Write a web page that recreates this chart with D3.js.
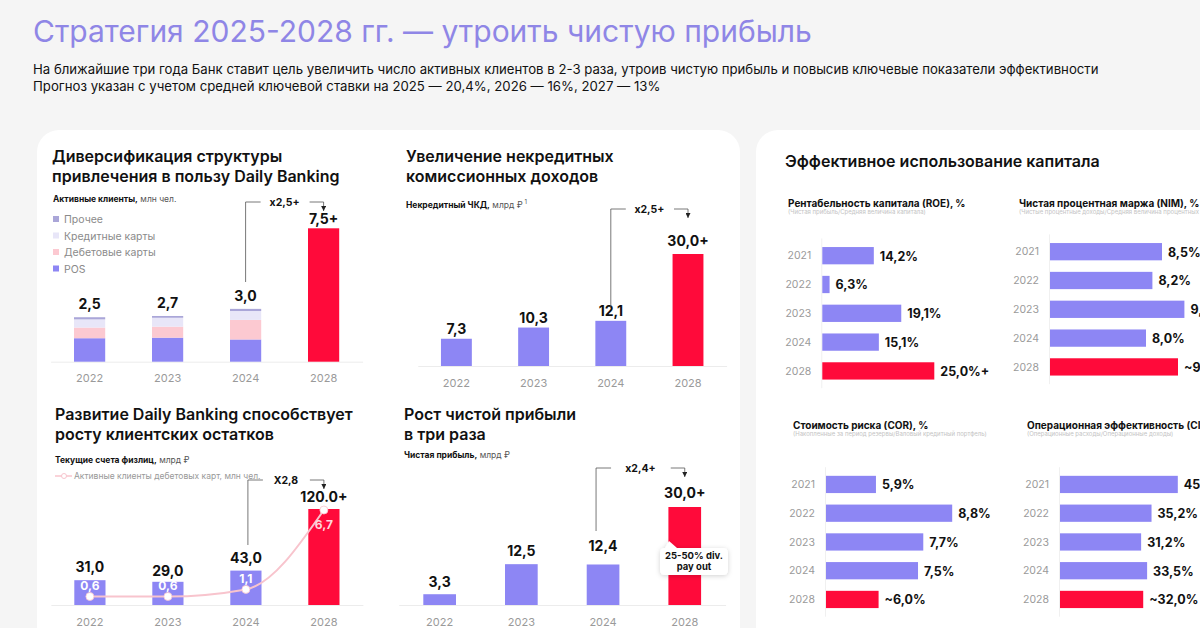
<!DOCTYPE html>
<html>
<head>
<meta charset="utf-8">
<script src="https://cdn.jsdelivr.net/npm/d3@7"></script>
<style>
  body { margin: 0; background: #f5f5f5; }
  svg { display: block; font-family: Inter, "Noto Sans", sans-serif; }
</style>
</head>
<body>
<svg width="1200" height="628"></svg>
<script>
// ---- data ----
const years = ["2022", "2023", "2024", "2028"];
const kpiYears = ["2021", "2022", "2023", "2024", "2028"];

// active clients, mln (stacked for 2022-2024, total only for 2028)
const clientSegments = ["POS", "Дебетовые карты", "Кредитные карты", "Прочее"];
const clientsPos = [1.32, 1.35, 1.25];
const clientsDebit = [0.6, 0.62, 1.1];
const clientsCredit = [0.46, 0.5, 0.5];
const clientsOther = [0.12, 0.1, 0.12];
const clientsTotal = [2.5, 2.7, 3.0, 7.5];
const clientsLabels = ["2,5", "2,7", "3,0", "7,5+"];

// non-credit fee income, bn RUB
const feeIncome = [7.3, 10.3, 12.1, 30.0];
const feeLabels = ["7,3", "10,3", "12,1", "30,0+"];

// retail current accounts, bn RUB + debit card clients, mln
const accounts = [31.0, 29.0, 43.0, 120.0];
const accountLabels = ["31,0", "29,0", "43,0", "120.0+"];
const debitClients = [0.6, 0.6, 1.1, 6.7];
const debitLabels = ["0,6", "0,6", "1,1", "6,7"];

// net profit, bn RUB
const netProfit = [3.3, 12.5, 12.4, 30.0];
const profitLabels = ["3,3", "12,5", "12,4", "30,0+"];

// capital efficiency, %
const roe = [14.2, 6.3, 19.1, 15.1, 25.0];
const roeLabels = ["14,2%", "6,3%", "19,1%", "15,1%", "25,0%+"];
const nim = [8.5, 8.2, 9.2, 8.0, 9.0];
const nimLabels = ["8,5%", "8,2%", "9,2%", "8,0%", "~9,0%"];
const cor = [5.9, 8.8, 7.7, 7.5, 6.0];
const corLabels = ["5,9%", "8,8%", "7,7%", "7,5%", "~6,0%"];
const cir = [45.3, 35.2, 31.2, 33.5, 32.0];
const cirLabels = ["45,3%", "35,2%", "31,2%", "33,5%", "~32,0%"];

const purple = "#8d86f4", red = "#ff0a3a", ink = "#111", grey = "#9a9a9a";
const segColors = ["#8d86f4", "#fcc9d1", "#e8e6f8", "#aaa6d8"];

const svg = d3.select("svg");

let defs = svg.append("defs");
defs.append("marker")
    .attr("id", "arrow")
    .attr("viewBox", "0 -4 8 8")
    .attr("refX", 8)
    .attr("refY", 0)
    .attr("markerUnits", "userSpaceOnUse")
    .attr("markerWidth", 5)
    .attr("markerHeight", 5)
    .attr("orient", "auto")
    .append("path")
    .attr("d", "M0,-4L8,0L0,4Z")
    .attr("fill", "#222");
defs.append("filter")
    .attr("id", "shadow")
    .attr("x", "-30%").attr("y", "-30%").attr("width", "160%").attr("height", "160%")
    .append("feDropShadow")
    .attr("dx", 0).attr("dy", 1).attr("stdDeviation", 2.5)
    .attr("flood-color", "#000").attr("flood-opacity", 0.18);

// background + cards
svg.append("rect").attr("width", 1200).attr("height", 628).attr("fill", "#f5f5f5");
svg.append("rect").attr("x", 37).attr("y", 130).attr("width", 703).attr("height", 540).attr("rx", 22).attr("fill", "#fff");
svg.append("rect").attr("x", 756).attr("y", 130).attr("width", 520).attr("height", 540).attr("rx", 22).attr("fill", "#fff");

function text(g, x, y, str, size, weight, fill, anchor) {
    return g.append("text")
        .attr("x", x).attr("y", y)
        .attr("font-size", size)
        .attr("font-weight", weight || 400)
        .attr("fill", fill || ink)
        .attr("text-anchor", anchor || "start")
        .text(str);
}

// page header
text(svg, 33, 42, "Стратегия 2025-2028 гг. — утроить чистую прибыль", 30, 400, "#8f86e6");
text(svg, 33, 74, "На ближайшие три года Банк ставит цель увеличить число активных клиентов в 2-3 раза, утроив чистую прибыль и повысив ключевые показатели эффективности", 13.2, 400, ink);
text(svg, 33, 91, "Прогноз указан с учетом средней ключевой ставки на 2025 — 20,4%, 2026 — 16%, 2027 — 13%", 13.2, 400, ink);

function chartTitle(x, y, lines) {
    lines.forEach((l, i) => text(svg, x, y + i * 20, l, 16, 600, ink));
}

function caption(x, y, bold, rest, sup) {
    const t = svg.append("text").attr("x", x).attr("y", y).attr("font-size", 8.5).attr("fill", ink);
    t.append("tspan").attr("font-weight", 700).text(bold);
    t.append("tspan").attr("fill", "#555").text(rest);
    if (sup) t.append("tspan").attr("fill", "#555").attr("font-size", 6).attr("dy", -4).text(" " + sup);
}

function columnChart(cfg) {
    const g = svg.append("g");
    const x = d3.scaleBand().domain(years).range(cfg.xRange).paddingInner(0.6).paddingOuter(0.3);
    const y = d3.scaleLinear().domain([0, cfg.max]).range([cfg.base, cfg.base - cfg.height]);
    const axis = g.append("g")
        .attr("transform", `translate(0,${cfg.base})`)
        .call(d3.axisBottom(x).tickSize(0).tickSizeOuter(0).tickPadding(13));
    axis.attr("font-family", null).attr("font-size", 11);
    axis.select(".domain").attr("stroke", "#ececec");
    axis.selectAll("text").attr("fill", grey);
    return { g, x, y };
}

function simpleBars(c, values) {
    c.g.selectAll("rect.bar")
        .data(values)
        .enter()
        .append("rect")
        .attr("class", "bar")
        .attr("x", (d, i) => c.x(years[i]))
        .attr("width", c.x.bandwidth())
        .attr("y", d => c.y(d))
        .attr("height", d => c.y(0) - c.y(d))
        .attr("fill", (d, i) => i === values.length - 1 ? red : purple);
}

function valueLabels(c, values, labels, lift) {
    c.g.selectAll("text.val")
        .data(values)
        .enter()
        .append("text")
        .attr("class", "val")
        .attr("x", (d, i) => c.x(years[i]) + c.x.bandwidth() / 2)
        .attr("y", (d, i) => c.y(d) - (lift ? lift[i] : 8))
        .attr("text-anchor", "middle")
        .attr("font-size", 14)
        .attr("font-weight", 700)
        .attr("fill", ink)
        .text((d, i) => labels[i]);
}

// growth bracket from the 2024 bar to the 2028 bar
function bracket(c, yLow, yTop, txt, shift) {
    const xFrom = c.x("2024") + c.x.bandwidth() / 2 + (shift || 0);
    const xTo = c.x("2028") + c.x.bandwidth() / 2;
    c.g.append("path")
        .attr("d", `M${xFrom},${yLow}V${yTop}H${xFrom + 15}`)
        .attr("fill", "none").attr("stroke", "#555").attr("stroke-width", 0.8);
    c.g.append("path")
        .attr("d", `M${xTo - 14},${yTop}H${xTo}V${yTop + 9}`)
        .attr("fill", "none").attr("stroke", "#555").attr("stroke-width", 0.8)
        .attr("marker-end", "url(#arrow)");
    text(c.g, (xFrom + xTo) / 2, yTop + 3.5, txt, 10.5, 700, ink, "middle");
}

// ---- chart 1: active clients ----
chartTitle(52, 162, ["Диверсификация структуры", "привлечения в пользу Daily Banking"]);
caption(53, 202, "Активные клиенты,", " млн чел.");
const legendOrder = [3, 2, 1, 0];
legendOrder.forEach((k, i) => {
    svg.append("rect").attr("x", 53).attr("y", 216 + i * 16.5).attr("width", 6).attr("height", 6).attr("fill", segColors[k]);
    text(svg, 64, 223 + i * 16.5, clientSegments[k], 10.5, 400, "#8a8a8a");
});
const c1 = columnChart({ xRange: [50.6, 362.6], base: 361.7, max: 7.5, height: 133.4 });
const stackRows = clientsPos.map((v, i) => ({
    year: years[i], s0: v, s1: clientsDebit[i], s2: clientsCredit[i], s3: clientsOther[i]
}));
const stacked = d3.stack().keys(["s0", "s1", "s2", "s3"])(stackRows);
c1.g.selectAll("g.layer")
    .data(stacked)
    .enter()
    .append("g")
    .attr("class", "layer")
    .attr("fill", (d, i) => segColors[i])
    .selectAll("rect")
    .data(d => d)
    .enter()
    .append("rect")
    .attr("x", d => c1.x(d.data.year))
    .attr("width", c1.x.bandwidth())
    .attr("y", d => c1.y(d[1]))
    .attr("height", d => c1.y(d[0]) - c1.y(d[1]));
c1.g.append("rect")
    .attr("x", c1.x("2028"))
    .attr("width", c1.x.bandwidth())
    .attr("y", c1.y(clientsTotal[3]))
    .attr("height", c1.y(0) - c1.y(clientsTotal[3]))
    .attr("fill", red);
const stackTops = stackRows.map(r => r.s0 + r.s1 + r.s2 + r.s3).concat([clientsTotal[3]]);
valueLabels(c1, stackTops, clientsLabels, [8, 8, 8, 4]);
bracket(c1, 282, 202, "x2,5+");

// ---- chart 2: fee income ----
chartTitle(406, 162, ["Увеличение некредитных", "комиссионных доходов"]);
caption(406, 208, "Некредитный ЧКД,", " млрд ₽", "1");
const c2 = columnChart({ xRange: [417.8, 726.6], base: 366, max: 30, height: 112 });
simpleBars(c2, feeIncome);
valueLabels(c2, feeIncome, feeLabels, [5, 5, 5, 8]);
bracket(c2, 307, 209, "x2,5+");

// ---- chart 3: current accounts + debit clients ----
chartTitle(55, 420, ["Развитие Daily Banking способствует", "росту клиентских остатков"]);
caption(55, 463, "Текущие счета физлиц,", " млрд ₽");
const c3 = columnChart({ xRange: [50.9, 362.9], base: 605, max: 120, height: 96 });
simpleBars(c3, accounts);
valueLabels(c3, accounts, accountLabels, [8, 6, 8, 7]);
bracket(c3, 545, 480, "X2,8", 2);
const y3 = d3.scaleLinear().domain([0, 6.7]).range([605, 510]);
const cx3 = (d, i) => c3.x(years[i]) + c3.x.bandwidth() / 2;
c3.g.append("path")
    .datum(debitClients)
    .attr("d", d3.line().x(cx3).y(d => y3(d)).curve(d3.curveMonotoneX))
    .attr("fill", "none")
    .attr("stroke", "#f8c4cd")
    .attr("stroke-width", 2);
c3.g.selectAll("circle.pt")
    .data(debitClients)
    .enter()
    .append("circle")
    .attr("class", "pt")
    .attr("cx", cx3)
    .attr("cy", d => y3(d))
    .attr("r", 4)
    .attr("fill", "#fff")
    .attr("stroke", "#f8c4cd")
    .attr("stroke-width", 0.8);
c3.g.selectAll("text.pl")
    .data(debitClients)
    .enter()
    .append("text")
    .attr("class", "pl")
    .attr("x", cx3)
    .attr("y", (d, i) => i === debitClients.length - 1 ? y3(d) + 19 : y3(d) - 6)
    .attr("text-anchor", "middle")
    .attr("font-size", 12)
    .attr("font-weight", 700)
    .attr("fill", (d, i) => i === debitClients.length - 1 ? "#ffd6dd" : "#fff")
    .text((d, i) => debitLabels[i]);
// line legend
svg.append("line").attr("x1", 55).attr("x2", 72).attr("y1", 476).attr("y2", 476).attr("stroke", "#f8c4cd").attr("stroke-width", 1.5);
svg.append("circle").attr("cx", 64).attr("cy", 476).attr("r", 2.5).attr("fill", "#fff").attr("stroke", "#f8c4cd");
text(svg, 74, 479, "Активные клиенты дебетовых карт, млн чел.", 8.5, 400, "#999");

// ---- chart 4: net profit ----
chartTitle(404, 420, ["Рост чистой прибыли", "в три раза"]);
caption(404, 458, "Чистая прибыль,", " млрд ₽");
const c4 = columnChart({ xRange: [398.8, 725.6], base: 605, max: 30, height: 98 });
simpleBars(c4, netProfit);
valueLabels(c4, netProfit, profitLabels, [7, 8, 13, 9]);
bracket(c4, 531, 468, "x2,4+", -7);
// payout callout
const cb = c4.g.append("g").attr("filter", "url(#shadow)");
cb.append("path")
    .attr("d", "M665,548 L669,541 L677,548 L723,548 Q728,548 728,553 L728,570 Q728,575 723,575 L665,575 Q660,575 660,570 L660,553 Q660,548 665,548 Z")
    .attr("fill", "#fff");
text(c4.g, 694, 558.5, "25-50% div.", 9.5, 700, ink, "middle");
text(c4.g, 694, 569.5, "pay out", 9.5, 700, ink, "middle");

// ---- capital efficiency panel ----
text(svg, 785, 167, "Эффективное использование капитала", 16, 600, ink);

function kpiChart(cfg) {
    const g = svg.append("g");
    const y = d3.scaleBand().domain(kpiYears).range(cfg.yRange).paddingInner(0.4).paddingOuter(0.3);
    const x = d3.scaleLinear().domain(cfg.domain).range(cfg.xRange);
    const x0 = cfg.xRange[0];
    text(g, cfg.hx, cfg.hy, cfg.title, 10, 700, ink);
    text(g, cfg.hx, cfg.hy + 7, cfg.sub, 6, 400, "#c4c4c4");
    g.append("line")
        .attr("x1", x0 - 0.5).attr("x2", x0 - 0.5)
        .attr("y1", cfg.yRange[0]).attr("y2", cfg.yRange[1])
        .attr("stroke", "#f0f0f0");
    g.selectAll("rect")
        .data(cfg.values)
        .enter()
        .append("rect")
        .attr("x", x0)
        .attr("y", (d, i) => y(kpiYears[i]))
        .attr("width", d => x(d) - x0)
        .attr("height", y.bandwidth())
        .attr("fill", (d, i) => i === cfg.values.length - 1 ? red : purple);
    g.selectAll("text.yr")
        .data(kpiYears)
        .enter()
        .append("text")
        .attr("class", "yr")
        .attr("x", x0 - 11)
        .attr("y", d => y(d) + y.bandwidth() / 2)
        .attr("dy", "0.35em")
        .attr("text-anchor", "end")
        .attr("font-size", 10.5)
        .attr("fill", grey)
        .text(d => d);
    g.selectAll("text.v")
        .data(cfg.values)
        .enter()
        .append("text")
        .attr("class", "v")
        .attr("x", d => x(d) + 6)
        .attr("y", (d, i) => y(kpiYears[i]) + y.bandwidth() / 2)
        .attr("dy", "0.4em")
        .attr("font-size", 12.5)
        .attr("font-weight", 700)
        .attr("fill", ink)
        .text((d, i) => cfg.labels[i]);
}

kpiChart({
    title: "Рентабельность капитала (ROE), %", sub: "(Чистая прибыль/Средняя величина капитала)",
    hx: 788, hy: 207, values: roe, labels: roeLabels,
    yRange: [238.4, 388.2], domain: [5, 25], xRange: [822.3, 934.3]
});
kpiChart({
    title: "Чистая процентная маржа (NIM), %", sub: "(Чистые процентные доходы/Средняя величина процентных активов)",
    hx: 1019, hy: 207, values: nim, labels: nimLabels,
    yRange: [234.4, 384.2], domain: [5, 10], xRange: [1050, 1210]
});
kpiChart({
    title: "Стоимость риска (COR), %", sub: "(Накопленные за период резервы/Валовый кредитный портфель)",
    hx: 793, hy: 429, values: cor, labels: corLabels,
    yRange: [467.2, 616.7], domain: [4, 8.8], xRange: [826, 952.2]
});
kpiChart({
    title: "Операционная эффективность (CIR), %", sub: "(Операционные расходы/Операционные доходы)",
    hx: 1027, hy: 429, values: cir, labels: cirLabels,
    yRange: [467.2, 616.7], domain: [0, 45.3], xRange: [1060, 1177.8]
});
</script>
</body>
</html>
